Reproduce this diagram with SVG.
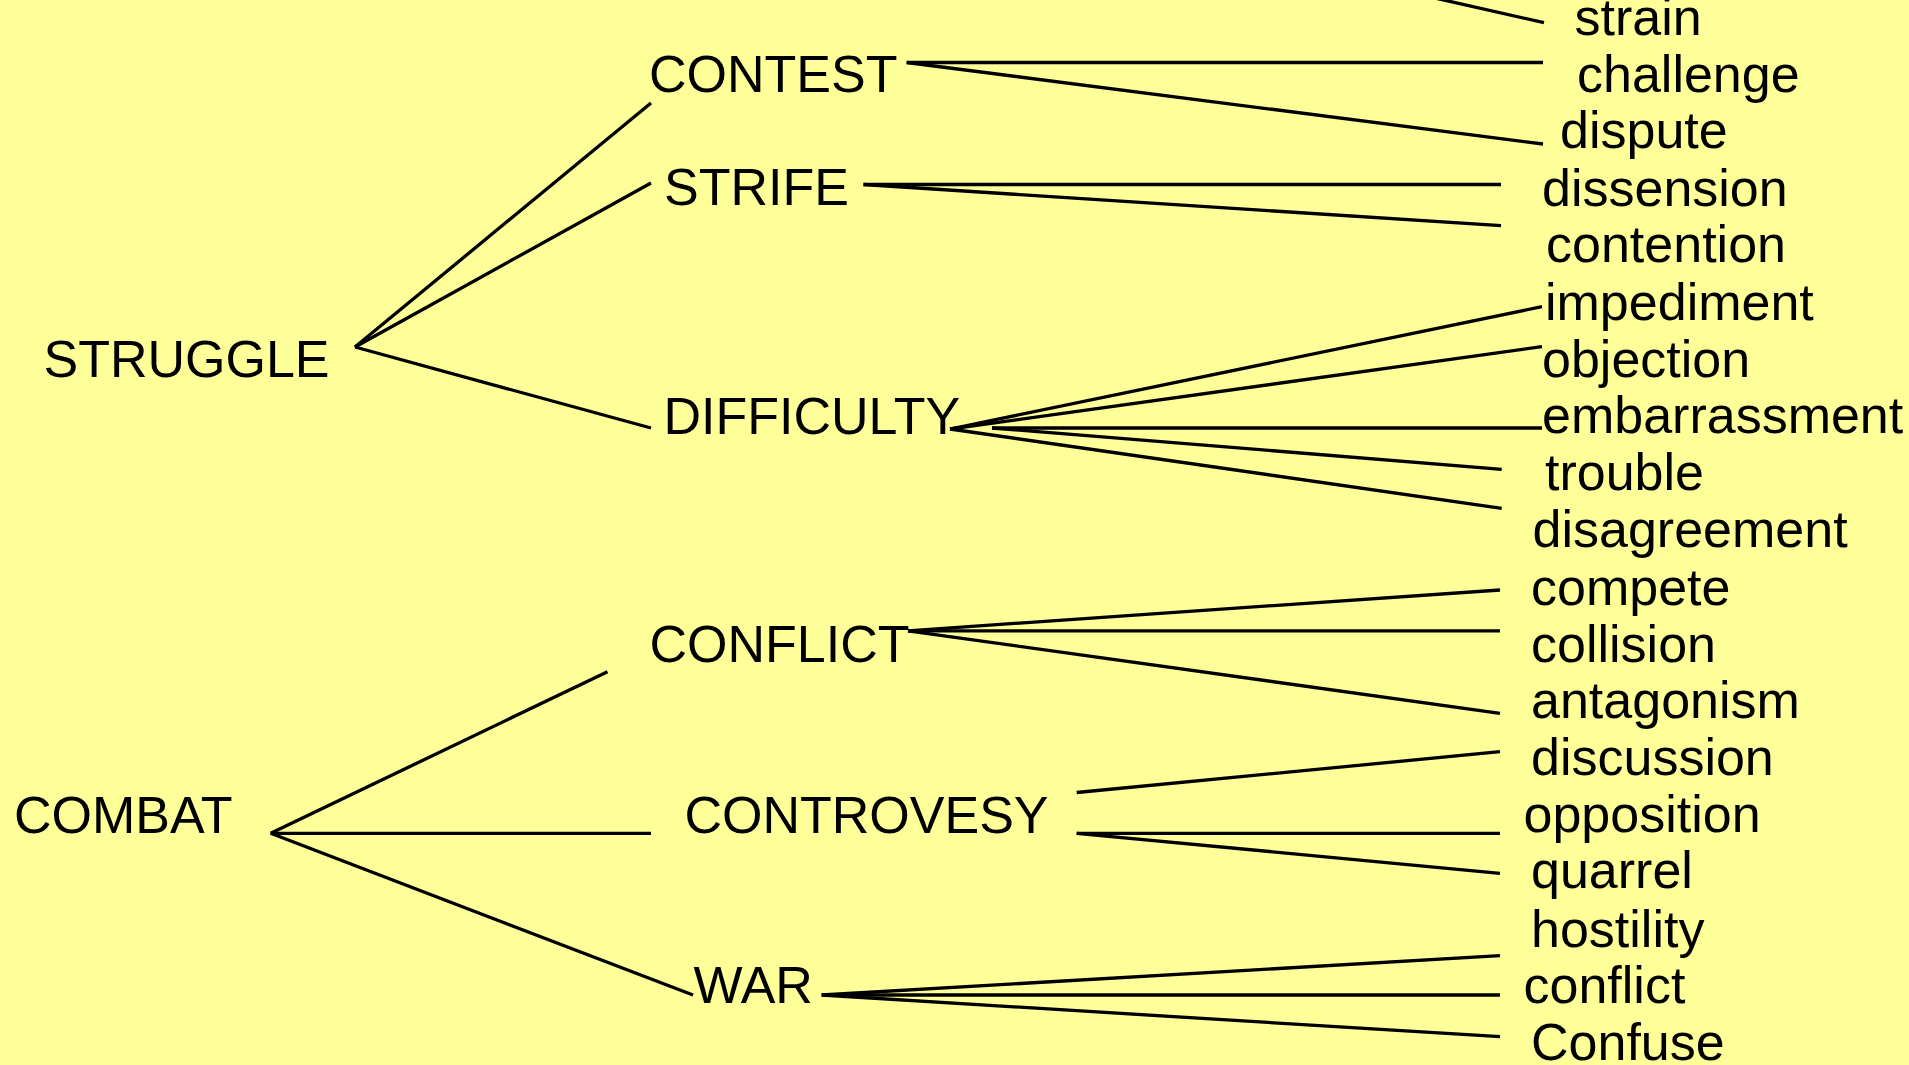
<svg xmlns="http://www.w3.org/2000/svg" width="1909" height="1065" viewBox="0 0 1909 1065">
<style>
text{font-family:"Liberation Sans",Arial,sans-serif;font-size:52px;fill:#000}
.c line{stroke:#000;stroke-width:3.3;stroke-linecap:butt}
</style>
<rect x="0" y="0" width="1909" height="1065" fill="#FFFF99"/>
<g id="connectors" class="c">
<line x1="355" y1="347" x2="651" y2="103"/>
<line x1="355" y1="347" x2="651" y2="183"/>
<line x1="355" y1="347" x2="651" y2="428"/>
<line x1="1395" y1="-11" x2="1544" y2="22.7"/>
<line x1="906.7" y1="62.5" x2="1543" y2="62.5"/>
<line x1="906.7" y1="62.5" x2="1543" y2="144"/>
<line x1="863.5" y1="184.5" x2="1501" y2="184.5"/>
<line x1="863.5" y1="184.5" x2="1501" y2="225.7"/>
<line x1="950" y1="429" x2="1542" y2="306.7"/>
<line x1="950" y1="429" x2="1542" y2="346.7"/>
<line x1="992" y1="428" x2="1542" y2="428"/>
<line x1="992" y1="428" x2="1501.7" y2="469.3"/>
<line x1="950" y1="429" x2="1501.7" y2="508.3"/>
<line x1="270.7" y1="833.3" x2="607.5" y2="671.7"/>
<line x1="270.7" y1="833.3" x2="651" y2="833.3"/>
<line x1="270.7" y1="833.3" x2="693" y2="995"/>
<line x1="908" y1="630.8" x2="1500" y2="590"/>
<line x1="908" y1="630.8" x2="1500" y2="630.8"/>
<line x1="908" y1="630.8" x2="1500" y2="713.3"/>
<line x1="1076.7" y1="792.5" x2="1500" y2="751.7"/>
<line x1="1076.7" y1="833.3" x2="1500" y2="833.3"/>
<line x1="1076.7" y1="833.3" x2="1500" y2="873.3"/>
<line x1="821.7" y1="995" x2="1500" y2="955.7"/>
<line x1="821.7" y1="995" x2="1500" y2="995"/>
<line x1="821.7" y1="995" x2="1500" y2="1036.7"/>
</g>
<g id="n-struggle"><text x="43.5" y="377.3">STRUGGLE</text></g>
<g id="n-contest"><text x="649" y="91.7">CONTEST</text></g>
<g id="n-strife"><text x="664" y="205">STRIFE</text></g>
<g id="n-difficulty"><text x="663.5" y="434">DIFFICULTY</text></g>
<g id="n-combat"><text x="14" y="833.3">COMBAT</text></g>
<g id="n-conflict-top"><text x="649.5" y="661.7">CONFLICT</text></g>
<g id="n-controvesy"><text x="684.5" y="833.3">CONTROVESY</text></g>
<g id="n-war"><text x="693.5" y="1003.3">WAR</text></g>
<g id="n-strain"><text x="1574.5" y="35">strain</text></g>
<g id="n-challenge"><text x="1577" y="91.7">challenge</text></g>
<g id="n-dispute"><text x="1560" y="148">dispute</text></g>
<g id="n-dissension"><text x="1542" y="206">dissension</text></g>
<g id="n-contention"><text x="1546" y="262">contention</text></g>
<g id="n-impediment"><text x="1545" y="320">impediment</text></g>
<g id="n-objection"><text x="1542" y="376.7">objection</text></g>
<g id="n-embarrassment"><text x="1542" y="433.3">embarrassment</text></g>
<g id="n-trouble"><text x="1545" y="490">trouble</text></g>
<g id="n-disagreement"><text x="1532.5" y="546.7">disagreement</text></g>
<g id="n-compete"><text x="1531" y="605">compete</text></g>
<g id="n-collision"><text x="1531" y="661.7">collision</text></g>
<g id="n-antagonism"><text x="1531" y="718.3">antagonism</text></g>
<g id="n-discussion"><text x="1531" y="775">discussion</text></g>
<g id="n-opposition"><text x="1523.5" y="831.7">opposition</text></g>
<g id="n-quarrel"><text x="1531" y="888.3">quarrel</text></g>
<g id="n-hostility"><text x="1531" y="946.7">hostility</text></g>
<g id="n-conflict"><text x="1523.5" y="1003.3">conflict</text></g>
<g id="n-confuse"><text x="1531" y="1060">Confuse</text></g>
</svg>
